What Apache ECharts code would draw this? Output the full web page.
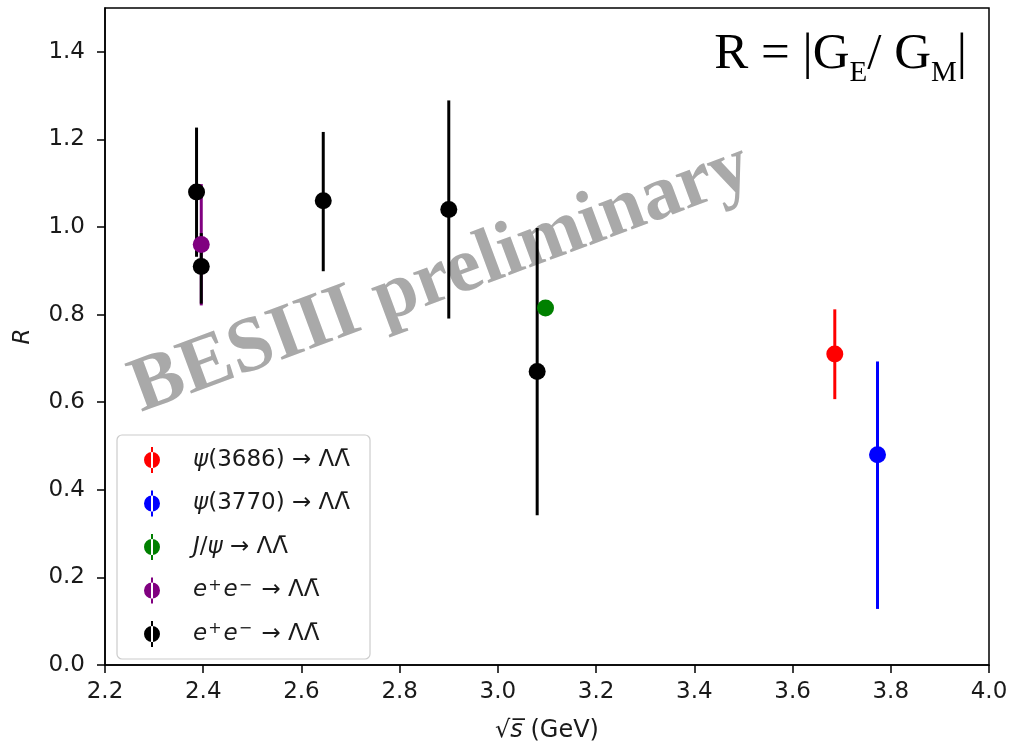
<!DOCTYPE html>
<html>
<head>
<meta charset="utf-8">
<script src="https://cdn.jsdelivr.net/npm/echarts@6/dist/echarts.min.js"></script>
<style>
  html, body { margin: 0; padding: 0; background: #fff; }
  #chart { width: 1012px; height: 748px; }
</style>
</head>
<body>
<div id="chart"></div>
<script>
// Ratio R = |G_E / G_M| versus centre-of-mass energy sqrt(s) in GeV.
// Each channel: energies, central values, lower and upper error-bar ends.
const psi3686X  = [3.686];
const psi3686R  = [0.710];
const psi3686Lo = [0.607];
const psi3686Hi = [0.812];

const psi3770X  = [3.773];
const psi3770R  = [0.480];
const psi3770Lo = [0.128];
const psi3770Hi = [0.693];

const jpsiX  = [3.097];
const jpsiR  = [0.815];
const jpsiLo = [0.812];
const jpsiHi = [0.818];

const eePurpleX  = [2.396];
const eePurpleR  = [0.960];
const eePurpleLo = [0.821];
const eePurpleHi = [1.098];

const eeBlackX  = [2.3864, 2.396, 2.6444, 2.900, 3.080];
const eeBlackR  = [1.080, 0.910, 1.060, 1.040, 0.670];
const eeBlackLo = [0.932, 0.825, 0.899, 0.791, 0.342];
const eeBlackHi = [1.227, 0.986, 1.217, 1.289, 0.998];

const xTickMin = 2.2, xTickMax = 4.0, xTickStep = 0.2;
const yTickMin = 0.0, yTickMax = 1.5, yTickStep = 0.2;

const channels = [
  { key: 'psi3686', color: '#ff0000', x: psi3686X, r: psi3686R, lo: psi3686Lo, hi: psi3686Hi,
    label: '{gap| }{i|ψ}{n|(3686) → ΛΛ\u0304}' },
  { key: 'psi3770', color: '#0000ff', x: psi3770X, r: psi3770R, lo: psi3770Lo, hi: psi3770Hi,
    label: '{gap| }{i|ψ}{n|(3770) → ΛΛ\u0304}' },
  { key: 'jpsi', color: '#008000', x: jpsiX, r: jpsiR, lo: jpsiLo, hi: jpsiHi,
    label: '{gap| }{i|J}{n|/}{i|ψ}{n| → ΛΛ\u0304}' },
  { key: 'eePurple', color: '#800080', x: eePurpleX, r: eePurpleR, lo: eePurpleLo, hi: eePurpleHi,
    label: '{gap| }{i|e}{sup|+}{i|e}{sup|−}{n| → ΛΛ\u0304}' },
  { key: 'eeBlack', color: '#000000', x: eeBlackX, r: eeBlackR, lo: eeBlackLo, hi: eeBlackHi,
    label: '{gap| }{i|e}{sup|+}{i|e}{sup|−}{n| → ΛΛ\u0304}' }
];

const FONT = 'DejaVu Sans';
const TXT = '#1a1a1a';
const FS = 23;

const series = [];
// error bars first, markers on top of every bar
channels.forEach(function (c) {
  series.push({
    name: c.key + ' bars',
    type: 'custom',
    z: 2,
    silent: true,
    data: c.x.map(function (x, i) { return [x, c.lo[i], c.hi[i]]; }),
    encode: { x: 0, y: [1, 2] },
    renderItem: function (params, api) {
      const p0 = api.coord([api.value(0), api.value(1)]);
      const p1 = api.coord([api.value(0), api.value(2)]);
      return {
        type: 'line',
        shape: { x1: p0[0], y1: p0[1], x2: p1[0], y2: p1[1] },
        style: { stroke: c.color, lineWidth: 3 }
      };
    }
  });
});
channels.forEach(function (c) {
  series.push({
    name: c.key,
    type: 'scatter',
    z: 3,
    symbol: 'circle',
    symbolSize: 17,
    itemStyle: { color: c.color, opacity: 1 },
    data: c.x.map(function (x, i) { return [x, c.r[i]]; })
  });
});

const labelByKey = {};
channels.forEach(function (c) { labelByKey[c.key] = c.label; });

const chart = echarts.init(document.getElementById('chart'), null, { renderer: 'canvas' });
chart.setOption({
  animation: false,
  backgroundColor: '#ffffff',
  grid: {
    left: 105, right: 23, top: 8, bottom: 80,
    show: true, borderColor: '#000', borderWidth: 1.5, backgroundColor: 'transparent'
  },
  xAxis: {
    type: 'value',
    min: xTickMin, max: xTickMax, interval: xTickStep,
    name: '{n|√}{i|s̅}{n| (GeV)}',
    nameLocation: 'middle',
    nameGap: 54,
    nameTextStyle: {
      rich: {
        n: { fontFamily: FONT, fontSize: 24, color: TXT },
        i: { fontFamily: FONT, fontSize: 24, fontStyle: 'italic', color: TXT }
      }
    },
    axisLine: { show: true, onZero: false, lineStyle: { color: '#000', width: 1.5 } },
    axisTick: { show: true, inside: false, length: 8, lineStyle: { color: '#000', width: 1.5 } },
    axisLabel: {
      fontFamily: FONT, fontSize: FS, color: TXT, margin: 16,
      formatter: function (v) { return v.toFixed(1); }
    },
    splitLine: { show: false }
  },
  yAxis: {
    type: 'value',
    min: yTickMin, max: yTickMax, interval: yTickStep,
    name: 'R',
    nameLocation: 'middle',
    nameGap: 70,
    nameRotate: 90,
    nameTextStyle: { fontFamily: FONT, fontSize: FS, fontStyle: 'italic', color: TXT },
    axisLine: { show: true, onZero: false, lineStyle: { color: '#000', width: 1.5 } },
    axisTick: { show: true, inside: false, length: 8, lineStyle: { color: '#000', width: 1.5 } },
    axisLabel: {
      fontFamily: FONT, fontSize: FS, color: TXT, margin: 20, showMaxLabel: false,
      formatter: function (v) { return v.toFixed(1); }
    },
    splitLine: { show: false }
  },
  legend: {
    orient: 'vertical',
    left: 117, top: 435,
    padding: [12, 20, 12, 27],
    itemGap: 17.5,
    itemWidth: 16, itemHeight: 26,
    icon: 'path://M7,0h2v26h-2z M0,13a8,8 0 1,0 16,0a8,8 0 1,0 -16,0z',
    backgroundColor: 'rgba(255,255,255,0.8)',
    borderColor: '#cccccc', borderWidth: 1.2, borderRadius: 5,
    selectedMode: false,
    data: channels.map(function (c) { return c.key; }),
    formatter: function (name) { return labelByKey[name]; },
    textStyle: {
      lineHeight: 26,
      rich: {
        gap: { width: 28, fontSize: 10 },
        n: { fontFamily: FONT, fontSize: FS, color: TXT },
        i: { fontFamily: FONT, fontSize: FS, fontStyle: 'italic', color: TXT },
        sup: { fontFamily: FONT, fontSize: 16, color: TXT, verticalAlign: 'top', padding: [0, 2, 12, 1] }
      }
    }
  },
  graphic: [
    {
      type: 'text',
      z: 1,
      x: 441, y: 279,
      rotation: 20.4 * Math.PI / 180,
      style: {
        text: 'BESIII preliminary',
        fontFamily: 'Liberation Serif',
        fontWeight: 'bold',
        fontSize: 78,
        fill: '#a9a9a9',
        textAlign: 'center',
        textVerticalAlign: 'middle'
      }
    },
    {
      type: 'text',
      z: 10,
      x: 967, y: 27,
      style: {
        text: '{t|R = |G}{s|E}{t|/ G}{s|M}{t||}',
        textAlign: 'right',
        textVerticalAlign: 'top',
        rich: {
          t: { fontFamily: 'Liberation Serif', fontSize: 51, lineHeight: 56, fill: '#000', color: '#000' },
          s: { fontFamily: 'Liberation Serif', fontSize: 29, lineHeight: 56, fill: '#000', color: '#000', padding: [36, 0, 0, 0] }
        }
      }
    }
  ],
  series: series
});
</script>
</body>
</html>
